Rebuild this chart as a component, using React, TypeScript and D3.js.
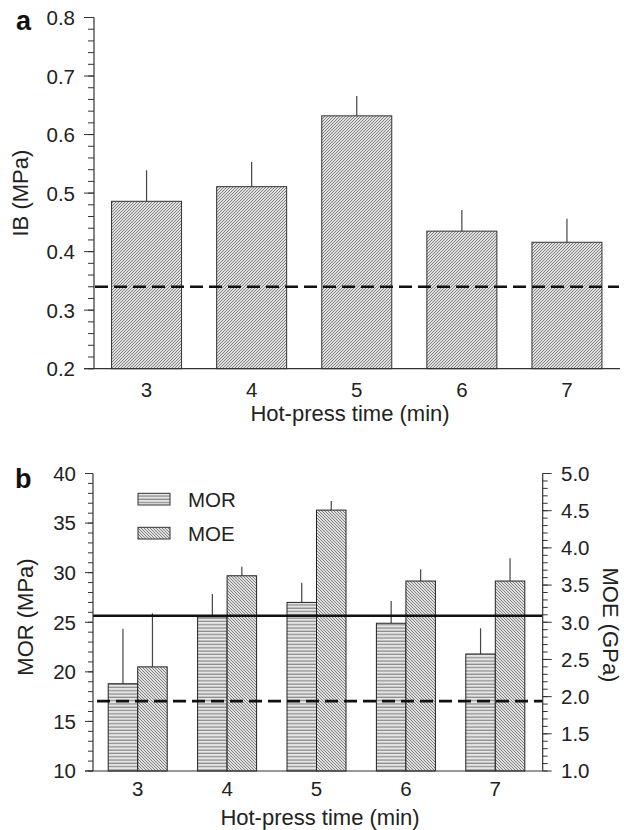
import React from "react";
import * as d3 from "d3";

const categories = ["3", "4", "5", "6", "7"];
// Panel a: IB (MPa)
const ibMean = [0.486, 0.511, 0.632, 0.435, 0.416];
const ibErr = [0.539, 0.553, 0.666, 0.471, 0.456];
const ibRef = 0.34;
// Panel b: MOR (MPa), MOE (GPa)
const morMean = [18.8, 25.55, 27.0, 24.9, 21.8];
const morErr = [24.35, 27.85, 28.99, 27.14, 24.39];
const moeMean = [2.4, 3.625, 4.508, 3.554, 3.554];
const moeErr = [3.12, 3.746, 4.63, 3.711, 3.86];
const morSolidRef = 25.65;
const morDashRef = 17.05;

const FONT = "'Liberation Sans', Arial, Helvetica, sans-serif";
const TICK_FS = 20.5;
const TITLE_FS = 22;

export default function App() {
  // Panel a scales
  const xA = d3.scaleBand<string>().domain(categories).range([94, 619.5]);
  const yA = d3.scaleLinear().domain([0.2, 0.8]).range([368.7, 17.5]);
  const barWA = 70;

  // Panel b scales
  const xB = d3.scaleBand<string>().domain(categories).range([93, 540]);
  const yL = d3.scaleLinear().domain([10, 40]).range([771, 473.5]);
  const yR = d3.scaleLinear().domain([1, 5]).range([771, 473.5]);
  const barWB = 29.5;
  const rightAxisX = 542.7;

  const cA = (c: string) => (xA(c) as number) + xA.bandwidth() / 2;
  const cB = (c: string) => (xB(c) as number) + xB.bandwidth() / 2;

  const fmtA = d3.format(".1f");
  const fmtR = d3.format(".1f");

  return (
    <svg
      width={624}
      height={830}
      style={{ position: "absolute", left: 0, top: 0, background: "#fff" }}
      fontFamily={FONT}
    >
      <defs>
        <pattern id="diagUp" patternUnits="userSpaceOnUse" width={3} height={3}>
          <rect width={3} height={3} fill="#e2e2e2" />
          <path d="M-1,1 L1,-1 M0,3 L3,0 M2,4 L4,2" stroke="#737373" strokeWidth={0.9} />
        </pattern>
        <pattern id="diagDown" patternUnits="userSpaceOnUse" width={3} height={3}>
          <rect width={3} height={3} fill="#e2e2e2" />
          <path d="M-1,2 L1,4 M0,0 L3,3 M2,-1 L4,1" stroke="#737373" strokeWidth={0.9} />
        </pattern>
        <pattern id="horiz" patternUnits="userSpaceOnUse" width={4} height={3.3}>
          <rect width={4} height={3.3} fill="#e6e6e6" />
          <line x1={0} x2={4} y1={1} y2={1} stroke="#808080" strokeWidth={1.1} />
        </pattern>
      </defs>

      {/* ================= Panel a ================= */}
      <text x={16} y={30} fontSize={27} fontWeight="bold" fill="#111">a</text>

      {categories.map((c, i) => (
        <g key={"a" + c}>
          <line
            x1={cA(c)} x2={cA(c)} y1={yA(ibMean[i])} y2={yA(ibErr[i])}
            stroke="#444" strokeWidth={1.2}
          />
          <rect
            x={cA(c) - barWA / 2}
            y={yA(ibMean[i])}
            width={barWA}
            height={yA(0.2) - yA(ibMean[i])}
            fill="url(#diagUp)"
            stroke="#333"
            strokeWidth={1}
          />
        </g>
      ))}

      <line
        x1={95} x2={619} y1={yA(ibRef)} y2={yA(ibRef)}
        stroke="#111" strokeWidth={2.6} strokeDasharray="13,6"
      />

      <line x1={94} x2={94} y1={yA(0.2)} y2={yA(0.8)} stroke="#333" strokeWidth={1.2} />
      {yA.ticks(30).map((t) => (
        <line key={"amt" + t} x1={88} x2={94} y1={yA(t)} y2={yA(t)} stroke="#333" strokeWidth={1} />
      ))}
      {yA.ticks(6).map((t) => (
        <g key={"aMt" + t}>
          <line x1={84} x2={94} y1={yA(t)} y2={yA(t)} stroke="#333" strokeWidth={1} />
          <text x={75} y={yA(t)} dy="0.38em" textAnchor="end" fontSize={TICK_FS} fill="#222">
            {fmtA(t)}
          </text>
        </g>
      ))}
      <line x1={84} x2={620} y1={yA(0.2)} y2={yA(0.2)} stroke="#333" strokeWidth={1.2} />
      {categories.map((c) => (
        <text key={"axl" + c} x={cA(c)} y={396.5} textAnchor="middle" fontSize={TICK_FS} fill="#222">
          {c}
        </text>
      ))}
      <text x={350} y={421} textAnchor="middle" fontSize={TITLE_FS} fill="#222">
        Hot-press time (min)
      </text>
      <text
        transform={`translate(28,${(yA(0.2) + yA(0.8)) / 2}) rotate(-90)`}
        textAnchor="middle"
        fontSize={TITLE_FS}
        fill="#222"
      >
        IB (MPa)
      </text>

      {/* ================= Panel b ================= */}
      <text x={15} y={488} fontSize={27} fontWeight="bold" fill="#111">b</text>

      {categories.map((c, i) => (
        <g key={"b" + c}>
          <line
            x1={cB(c) - barWB / 2} x2={cB(c) - barWB / 2}
            y1={yL(morMean[i])} y2={yL(morErr[i])}
            stroke="#444" strokeWidth={1.2}
          />
          <line
            x1={cB(c) + barWB / 2} x2={cB(c) + barWB / 2}
            y1={yR(moeMean[i])} y2={yR(moeErr[i])}
            stroke="#444" strokeWidth={1.2}
          />
          <rect
            x={cB(c) - barWB}
            y={yL(morMean[i])}
            width={barWB}
            height={yL(10) - yL(morMean[i])}
            fill="url(#horiz)"
            stroke="#222"
            strokeWidth={1}
          />
          <rect
            x={cB(c)}
            y={yR(moeMean[i])}
            width={barWB}
            height={yR(1) - yR(moeMean[i])}
            fill="url(#diagDown)"
            stroke="#222"
            strokeWidth={1}
          />
        </g>
      ))}

      <line
        x1={93} x2={rightAxisX} y1={yL(morSolidRef)} y2={yL(morSolidRef)}
        stroke="#111" strokeWidth={2.4}
      />
      <line
        x1={97} x2={rightAxisX} y1={yL(morDashRef)} y2={yL(morDashRef)}
        stroke="#111" strokeWidth={2.6} strokeDasharray="13,6"
      />

      <line x1={93} x2={93} y1={yL(10)} y2={yL(40)} stroke="#333" strokeWidth={1.2} />
      {yL.ticks(30).map((t) => (
        <line key={"bmt" + t} x1={88} x2={93} y1={yL(t)} y2={yL(t)} stroke="#333" strokeWidth={1} />
      ))}
      {yL.ticks(6).map((t) => (
        <g key={"bMt" + t}>
          <line x1={85} x2={93} y1={yL(t)} y2={yL(t)} stroke="#333" strokeWidth={1} />
          <text x={76} y={yL(t)} dy="0.36em" textAnchor="end" fontSize={TICK_FS} fill="#222">
            {t}
          </text>
        </g>
      ))}

      <line x1={rightAxisX} x2={rightAxisX} y1={yR(1)} y2={yR(5)} stroke="#333" strokeWidth={1.2} />
      {yR.ticks(40).map((t) => (
        <line key={"rmt" + t} x1={rightAxisX} x2={rightAxisX + 5} y1={yR(t)} y2={yR(t)} stroke="#333" strokeWidth={1} />
      ))}
      {yR.ticks(8).map((t) => (
        <g key={"rMt" + t}>
          <line x1={rightAxisX} x2={rightAxisX + 9} y1={yR(t)} y2={yR(t)} stroke="#333" strokeWidth={1} />
          <text x={561} y={yR(t)} dy="0.36em" textAnchor="start" fontSize={TICK_FS} fill="#222">
            {fmtR(t)}
          </text>
        </g>
      ))}

      <line x1={85} x2={rightAxisX} y1={yL(10)} y2={yL(10)} stroke="#333" strokeWidth={1.2} />
      {categories.map((c) => (
        <text key={"bxl" + c} x={cB(c)} y={796} textAnchor="middle" fontSize={TICK_FS} fill="#222">
          {c}
        </text>
      ))}
      <text x={320} y={825} textAnchor="middle" fontSize={TITLE_FS} fill="#222">
        Hot-press time (min)
      </text>
      <text
        transform={`translate(33,617) rotate(-90)`}
        textAnchor="middle"
        fontSize={TITLE_FS}
        fill="#222"
      >
        MOR (MPa)
      </text>
      <text
        transform={`translate(603,625) rotate(90)`}
        textAnchor="middle"
        fontSize={TITLE_FS}
        fill="#222"
      >
        MOE (GPa)
      </text>

      <rect x={138} y={493.3} width={32} height={11.7} fill="url(#horiz)" stroke="#333" strokeWidth={1} />
      <text x={188} y={506.5} fontSize={TICK_FS} fill="#222">MOR</text>
      <rect x={138} y={527.3} width={32} height={11.7} fill="url(#diagDown)" stroke="#333" strokeWidth={1} />
      <text x={188} y={541} fontSize={TICK_FS} fill="#222">MOE</text>
    </svg>
  );
}
